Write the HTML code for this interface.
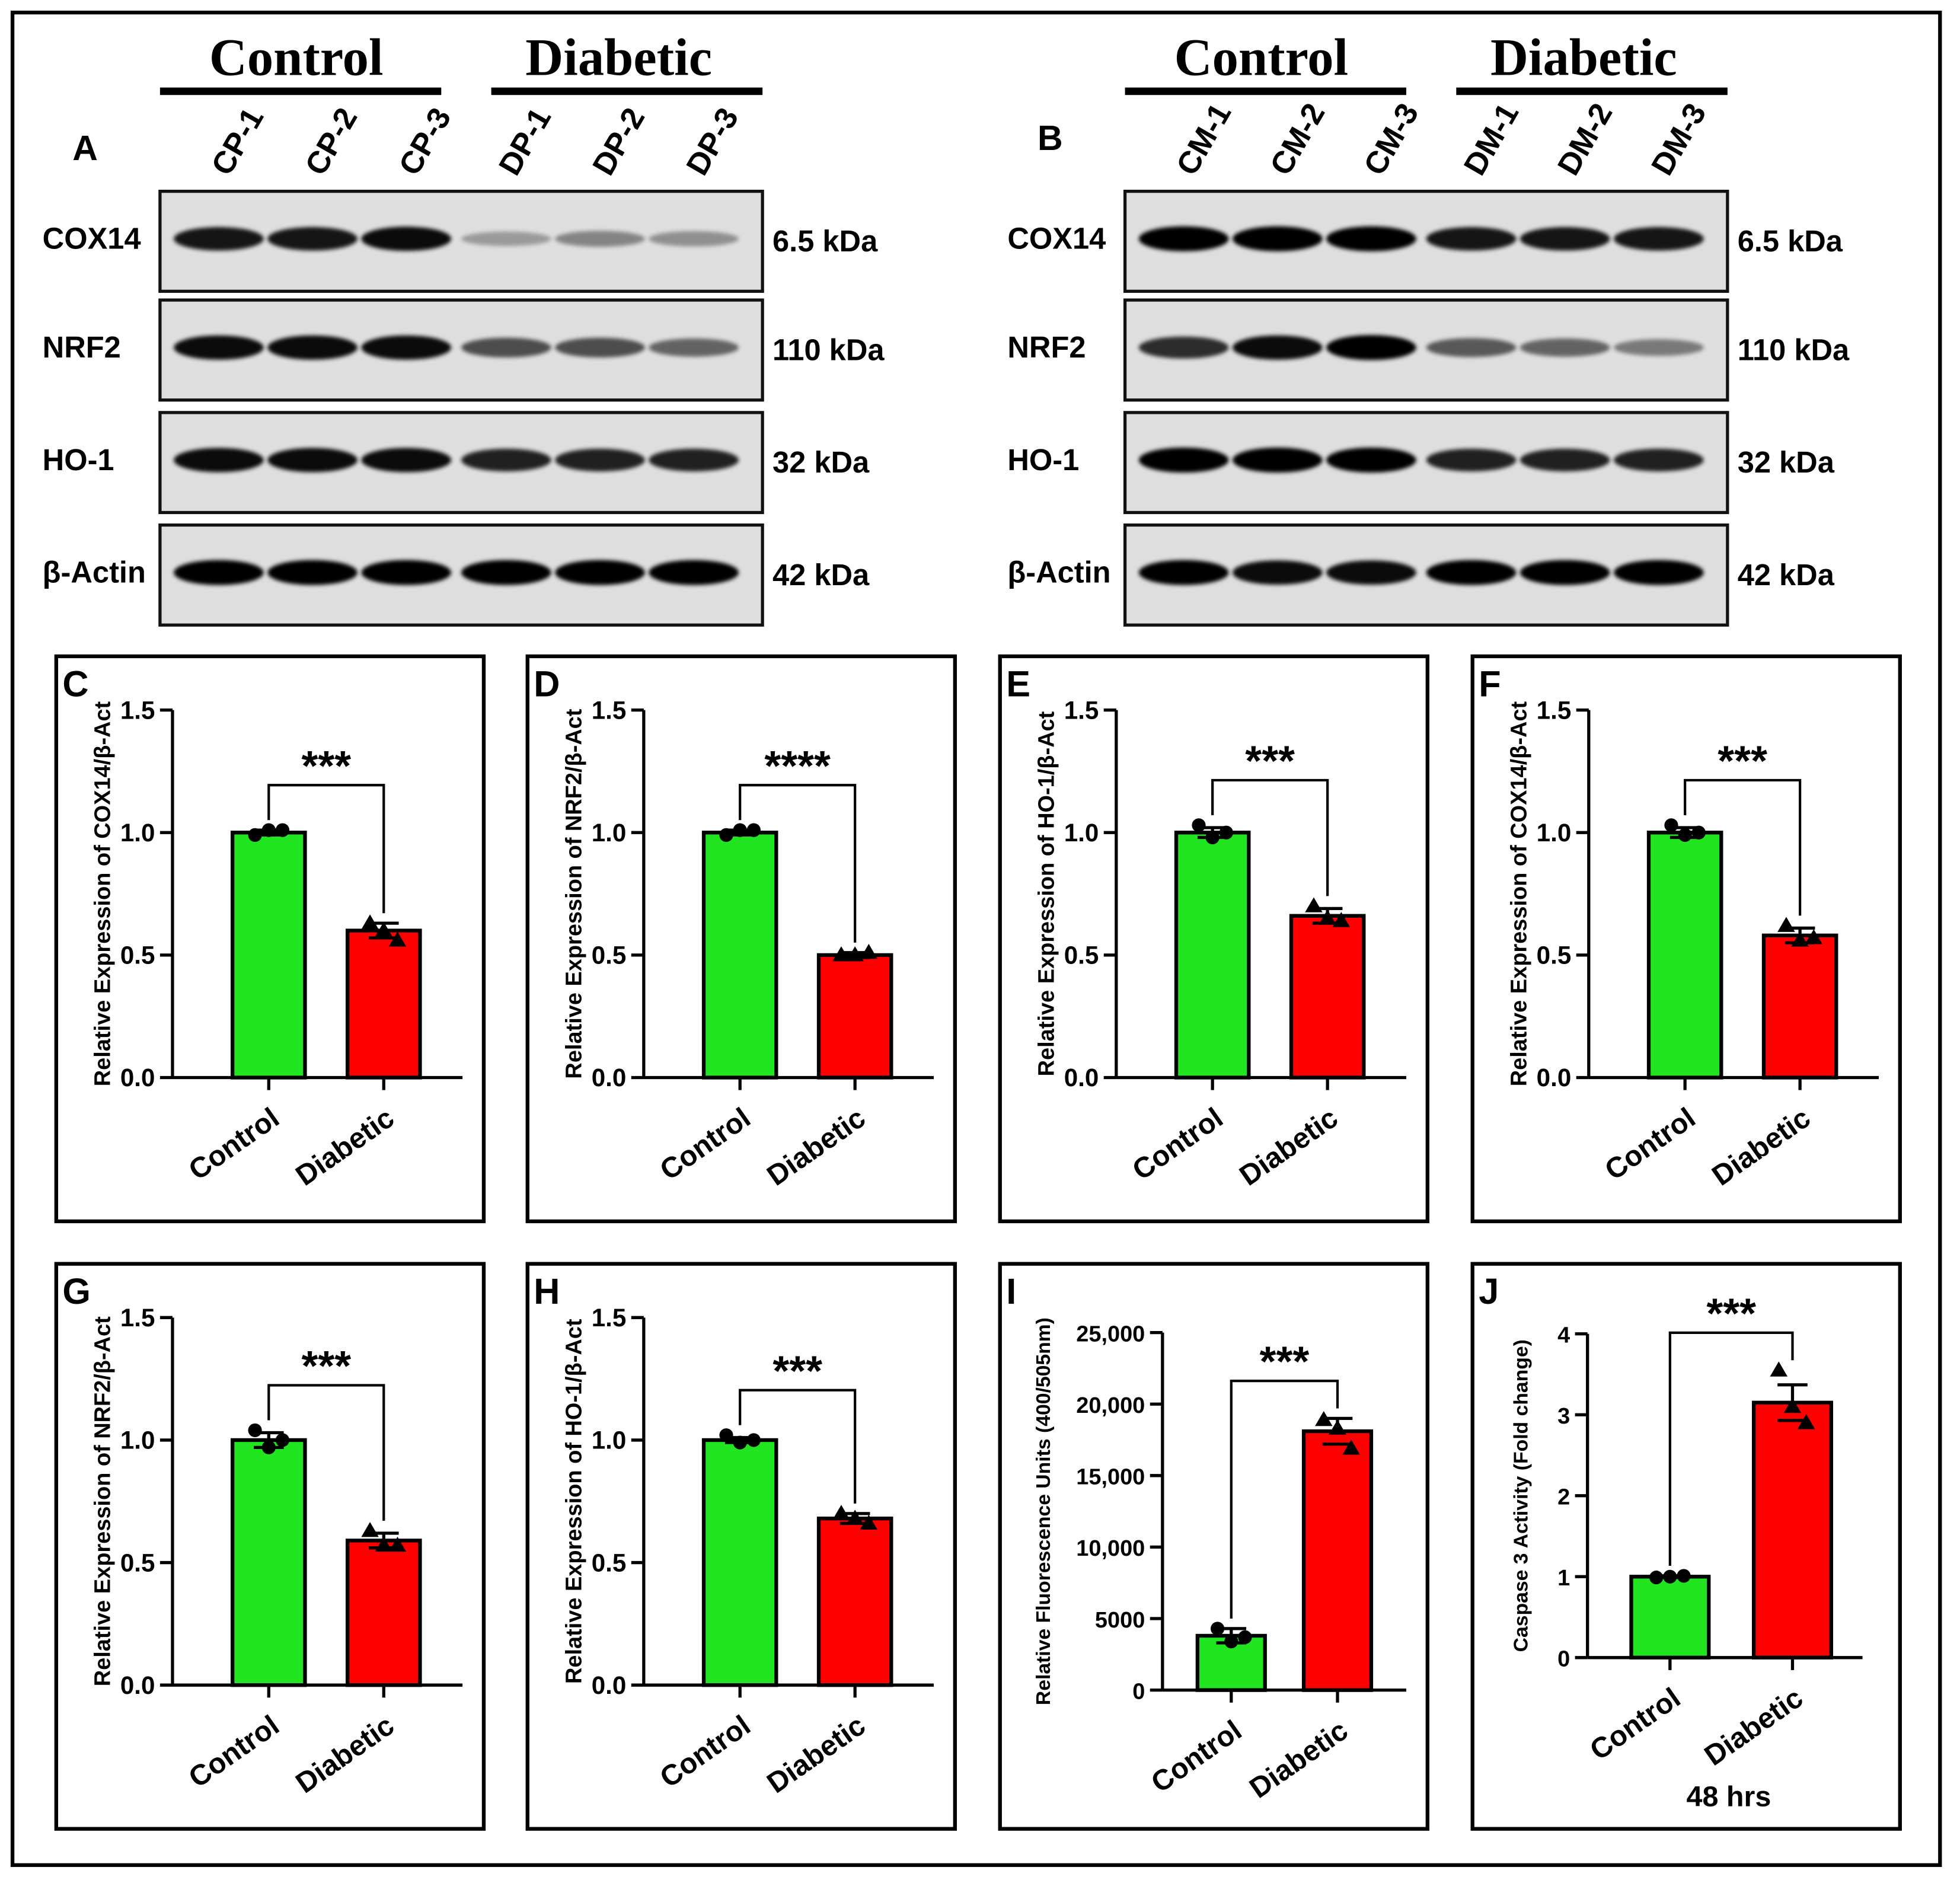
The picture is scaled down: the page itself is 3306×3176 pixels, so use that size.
<!DOCTYPE html>
<html><head><meta charset="utf-8">
<style>
html,body{margin:0;padding:0;background:#fff;}
svg{display:block;}
.sans{font-family:"Liberation Sans",sans-serif;}
.serif{font-family:"Liberation Serif",serif;}
</style></head>
<body>
<svg id="fig" width="3306" height="3176" viewBox="0 0 1568 1506.3" xmlns="http://www.w3.org/2000/svg">
<defs><filter id="blur" x="-20%" y="-50%" width="140%" height="200%"><feGaussianBlur stdDeviation="1.6"/></filter></defs>
<rect x="10" y="10" width="1542" height="1482" fill="#fff" stroke="#000" stroke-width="3"/>
<g id="root" class="sans"></g>
</svg>
<script>
// Blot data: band intensity (0-1) per lane, per row
const blotRowsA = ["COX14","NRF2","HO-1","β-Actin"];
const blotKdaA = ["6.5 kDa","110 kDa","32 kDa","42 kDa"];
const lanesA = ["CP-1","CP-2","CP-3","DP-1","DP-2","DP-3"];
const lanesB = ["CM-1","CM-2","CM-3","DM-1","DM-2","DM-3"];
const intensA = [[0.9,0.9,0.95,0.3,0.4,0.35],[0.95,0.95,0.95,0.65,0.65,0.55],[0.95,0.95,0.95,0.85,0.85,0.85],[1,1,1,1,1,1]];
const intensB = [[1,1,1,0.9,0.9,0.9],[0.8,0.95,1,0.6,0.55,0.45],[1,1,1,0.85,0.85,0.85],[1,0.95,0.95,1,1,1]];

// Bar chart data
const categories = ["Control","Diabetic"];
const valsC = [1.0,0.6], errC=[0.01,0.03], ptsC=[[0.99,1.01,1.01],[0.63,0.6,0.56]];
const valsD = [1.0,0.5], errD=[0.01,0.01], ptsD=[[0.99,1.01,1.01],[0.5,0.5,0.51]];
const valsE = [1.0,0.66], errE=[0.02,0.03], ptsE=[[1.03,0.98,1.0],[0.7,0.65,0.64]];
const valsF = [1.0,0.58], errF=[0.02,0.03], ptsF=[[1.03,0.99,1.0],[0.62,0.56,0.57]];
const valsG = [1.0,0.59], errG=[0.03,0.03], ptsG=[[1.04,0.97,1.0],[0.63,0.57,0.57]];
const valsH = [1.0,0.68], errH=[0.01,0.02], ptsH=[[1.02,0.99,1.0],[0.7,0.68,0.66]];
const valsI = [3800,18100], errI=[500,900], ptsI=[[4300,3400,3700],[18900,18300,16900]];
const valsJ = [1.0,3.15], errJ=[0.01,0.22], ptsJ=[[0.99,1.0,1.01],[3.55,3.1,2.9]];
const ticks15 = ["0.0","0.5","1.0","1.5"];
const ticksI = ["0","5000","10,000","15,000","20,000","25,000"];
const ticksJ = ["0","1","2","3","4"];

const NS="http://www.w3.org/2000/svg";
const root=document.getElementById('root');
function mk(tag,attrs,parent,txt){const e=document.createElementNS(NS,tag);for(const k in attrs)e.setAttribute(k,attrs[k]);if(txt!==undefined)e.textContent=txt;(parent||root).appendChild(e);return e;}

function blot(x0,lanes,intens,letter,letterY){
  const g=mk('g',{});
  
  
  const L=mk('text',{x:x0-70,y:letterY,'font-size':28,'font-weight':'bold'},g,letter);
  
  const hdr=[["Control",x0+109,x0,x0+225],["Diabetic",x0+367,x0+265,x0+482]];
  hdr.forEach(h=>{
    const t=mk('text',{x:h[1],y:60,'font-size':42,'font-weight':'bold','text-anchor':'middle','class':'serif'},g,h[0]);
    
    const l=mk('line',{x1:h[2],x2:h[3],y1:73,y2:73,stroke:'#000','stroke-width':6},g);
    
  });
  const lx=[47,122,197,277,352,427];
  lanes.forEach((n,i)=>{
    const t=mk('text',{x:x0+lx[i]+8,y:142,'font-size':25,'font-weight':'bold',transform:`rotate(-60 ${x0+lx[i]+8} 142)`},g,n);
    
  });
  const rowsY=[[153,80],[240,80],[330,80],[420,80]];
  rowsY.forEach((r,ri)=>{
    const b=mk('rect',{x:x0,y:r[0],width:482,height:r[1],fill:'#dedede',stroke:'#111','stroke-width':2.5},g);
    
    const cy=r[0]+r[1]/2-2;
    intens[ri].forEach((v,i)=>{
      const e=mk('ellipse',{cx:x0+lx[i],cy:cy,rx:36,ry:4+6*v,fill:'#000',opacity:v,filter:'url(#blur)'},g);
      
    });
    const t=mk('text',{x:x0-94,y:cy+8,'font-size':24,'font-weight':'bold'},g,blotRowsA[ri]);
    
    const k=mk('text',{x:x0+490,y:cy+10,'font-size':24,'font-weight':'bold'},g,blotKdaA[ri]);
    
  });
}
blot(128,lanesA,intensA,"A",128);
blot(900,lanesB,intensB,"B",120);

function chart(o){
  const g=mk('g',{});
  
  
  const fr=mk('rect',{x:o.bx,y:o.by,width:342,height:452,fill:'none',stroke:'#000','stroke-width':3},g);
  
  const L=mk('text',{x:o.bx+5,y:o.by+32,'font-size':29,'font-weight':'bold'},g,o.letter);
  
  const ys=v=>o.y0-(v/o.max)*(o.y0-o.y1);
  const ax=o.ax;
  const a1=mk('line',{x1:ax,x2:ax,y1:o.y1,y2:o.y0,stroke:'#000','stroke-width':2.5},g);
  
  const a2=mk('line',{x1:ax,x2:o.xend,y1:o.y0,y2:o.y0,stroke:'#000','stroke-width':2.5},g);
  
  o.ticks.forEach((t,i)=>{
    const v=i*o.max/(o.ticks.length-1),y=ys(v);
    const tl=mk('line',{x1:ax-10,x2:ax,y1:y,y2:y,stroke:'#000','stroke-width':2.5},g);
    
    const tt=mk('text',{x:ax-14,y:y+7,'font-size':o.tfs,'font-weight':'bold','text-anchor':'end'},g,t);
    
  });
  const yt=mk('text',{x:o.ytx,y:(o.y0+o.y1)/2,'font-size':o.yfs,'font-weight':'bold','text-anchor':'middle',transform:`rotate(-90 ${o.ytx} ${(o.y0+o.y1)/2})`},g,o.ytitle);
  
  const cols=['#22e522','#ff0000'];
  const tops=[];
  o.vals.forEach((v,i)=>{
    const cx=o.cx[i],w=o.bw;
    const r=mk('rect',{x:cx-w/2,y:ys(v),width:w,height:o.y0-ys(v),fill:cols[i],stroke:'#000','stroke-width':3},g);
    
    const e=o.err[i];
    const el=mk('path',{d:`M${cx},${ys(v)} V${ys(v+e)} M${cx-12},${ys(v+e)} H${cx+12} M${cx-12},${ys(v-e)} H${cx+12}`,stroke:'#000','stroke-width':2.5,fill:'none'},g);
    
    tops.push(Math.min(ys(v+e),...o.pts[i].map(ys)));
    o.pts[i].forEach((p,j)=>{
      const px=cx-11+11*j,py=ys(p);
      let m;
      if(i===0) m=mk('circle',{cx:px,cy:py,r:5.5,fill:'#000'},g);
      else m=mk('path',{d:`M${px},${py-7} L${px+7},${py+5} L${px-7},${py+5}Z`,fill:'#000'},g);
      
    });
    const xt=mk('line',{x1:cx,x2:cx,y1:o.y0,y2:o.y0+10,stroke:'#000','stroke-width':2.5},g);
    
    const lx=cx+10,ly=o.y0+36;
    const xl=mk('text',{x:lx,y:ly,'font-size':23,'font-weight':'bold','text-anchor':'end',transform:`rotate(-35 ${lx} ${ly})`},g,categories[i]);
    
  });
  const by=Math.min(...tops)-o.bgap;
  const br=mk('path',{d:`M${o.cx[0]},${tops[0]-8} V${by} H${o.cx[1]} V${tops[1]-8}`,stroke:'#000','stroke-width':2,fill:'none'},g);
  
  const st=mk('text',{x:(o.cx[0]+o.cx[1])/2,y:by-4,'font-size':34,'font-weight':'bold','text-anchor':'middle'},g,o.stars);
  
  if(o.extra){const ex=mk('text',{x:(o.cx[0]+o.cx[1])/2-2,y:o.y0+119,'font-size':23,'font-weight':'bold','text-anchor':'middle'},g,o.extra);
    }
}
function std(letter,bx,by,vals,err,pts,stars,title){
  const ax=bx+93,y0=by+337,y1=by+43;
  chart({letter,bx,by,ax,y0,y1,xend:ax+232,max:1.5,ticks:ticks15,tfs:20,vals,err,pts,cx:[ax+77,ax+169],bw:58,ytitle:title,ytx:bx+43,yfs:18,bgap:36,stars});
}
std("C",45,525,valsC,errC,ptsC,"***","Relative Expression of COX14/β-Act");
std("D",422,525,valsD,errD,ptsD,"****","Relative Expression of NRF2/β-Act");
std("E",800,525,valsE,errE,ptsE,"***","Relative Expression of HO-1/β-Act");
std("F",1178,525,valsF,errF,ptsF,"***","Relative Expression of COX14/β-Act");
std("G",45,1011,valsG,errG,ptsG,"***","Relative Expression of NRF2/β-Act");
std("H",422,1011,valsH,errH,ptsH,"***","Relative Expression of HO-1/β-Act");
chart({letter:"I",bx:800,by:1011,ax:930,y0:1352,y1:1066,xend:1125,max:25000,ticks:ticksI,tfs:18,vals:valsI,err:errI,pts:ptsI,cx:[985,1070],bw:54,ytitle:"Relative Fluorescence Units (400/505nm)",ytx:840,yfs:16,bgap:30,stars:"***"});
chart({letter:"J",bx:1178,by:1011,ax:1270,y0:1326,y1:1067,xend:1490,max:4,ticks:ticksJ,tfs:18,vals:valsJ,err:errJ,pts:ptsJ,cx:[1336,1434],bw:62,ytitle:"Caspase 3 Activity (Fold change)",ytx:1222,yfs:16,bgap:30,stars:"***",extra:"48 hrs"});
</script>
</body></html>
